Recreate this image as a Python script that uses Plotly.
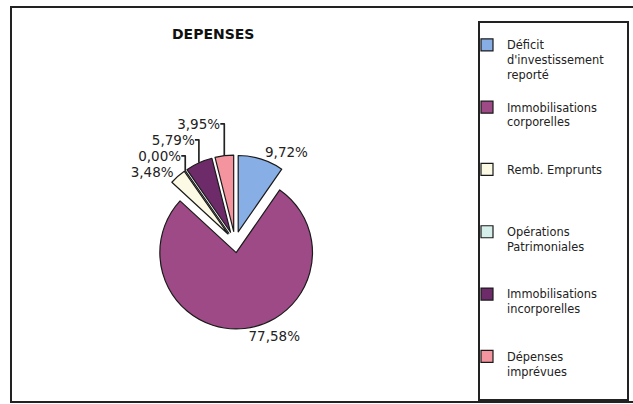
import plotly.graph_objects as go

W, H = 633, 404

categories = [
    "Déficit<br>d'investissement<br>reporté",
    "Immobilisations<br>corporelles",
    "Remb. Emprunts",
    "Opérations<br>Patrimoniales",
    "Immobilisations<br>incorporelles",
    "Dépenses<br>imprévues",
]
values = [9.72, 77.58, 3.48, 0.00, 5.79, 3.95]
colors = ["#88AEE6", "#9E4A86", "#FCFAE4", "#D6EFEA", "#6E2B6A", "#F4949E"]
pulls = [0.14, 0.14, 0.14, 0.14, 0.14, 0.14]

# pad legend entries (all but the last) so they are spread out like the reference
line_counts = [c.count("<br>") + 1 for c in categories]
legend_labels = [
    c + ("<br> " * (4 - n) if i < len(categories) - 1 else "")
    for i, (c, n) in enumerate(zip(categories, line_counts))
]


def px(x):
    return x / W


def py(y):
    return 1 - y / H


cx, cy, box = 235, 242, 174
fig = go.Figure(
    go.Pie(
        labels=legend_labels,
        values=values,
        sort=False,
        direction="clockwise",
        rotation=0,
        pull=pulls,
        marker=dict(colors=colors, line=dict(color="#1a1a1a", width=1.2)),
        texttemplate="%{value:.2f}%",
        textposition="outside",
        textfont=dict(family="DejaVu Sans, Verdana", size=13.5, color="#222"),
        domain=dict(x=[px(cx - box / 2), px(cx + box / 2)], y=[py(cy + box / 2), py(cy - box / 2)]),
        showlegend=True,
        hoverinfo="label+value",
    )
)

fig.update_layout(
    width=W,
    height=H,
    margin=dict(l=0, r=0, t=0, b=0),
    paper_bgcolor="white",
    separators=", ",
    showlegend=True,
    legend=dict(
        x=px(467),
        y=py(31),
        xanchor="left",
        yanchor="top",
        valign="top",
        font=dict(family="DejaVu Sans, Verdana", size=11.4, color="#222"),
        bgcolor="rgba(0,0,0,0)",
        borderwidth=0,
    ),
    annotations=[
        dict(
            text="<b>DEPENSES</b>",
            x=px(213),
            y=py(24),
            xref="paper",
            yref="paper",
            showarrow=False,
            font=dict(family="DejaVu Sans, Verdana", size=14, color="#111"),
        )
    ],
    shapes=[
        dict(type="rect", xref="paper", yref="paper",
             x0=px(11), y0=py(402), x1=px(640), y1=py(7),
             line=dict(color="#222", width=2)),
        dict(type="rect", xref="paper", yref="paper",
             x0=px(479), y0=py(400), x1=px(628), y1=py(22),
             line=dict(color="#222", width=2)),
    ],
)

fig.write_html("out.html")
